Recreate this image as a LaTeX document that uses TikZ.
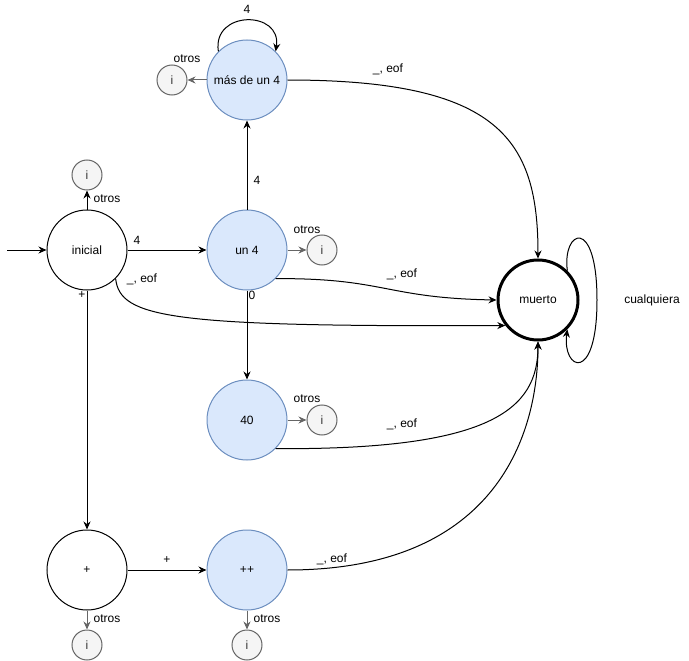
\documentclass[tikz,border=0pt]{standalone}
\usepackage{fontspec}
\setmainfont{Liberation Sans}
\usetikzlibrary{arrows.meta}
\definecolor{azulrelleno}{HTML}{DAE8FC}
\definecolor{azulborde}{HTML}{6C8EBF}
\definecolor{grisrelleno}{HTML}{F5F5F5}
\definecolor{grisborde}{HTML}{666666}
\tikzset{
	estado/.style={circle, draw, minimum size=80pt, inner sep=0pt, line width=1pt},
	azul/.style={estado, fill=azulrelleno, draw=azulborde},
	muerte/.style={estado, line width=3pt},
	error/.style={circle, draw=grisborde, fill=grisrelleno, text=black!80, minimum size=30pt, inner sep=0pt, line width=1pt},
	etiq/.style={inner sep=1pt},
	flecha/.style={->, line width=1pt},
	gris/.style={flecha, draw=grisborde}
}
\begin{document}
\begin{tikzpicture}[x=1pt, y=-1pt, >={Stealth[length=8pt,width=7pt]}, font=\fontsize{12}{14}\selectfont]
			
			\useasboundingbox (0,0) rectangle (689,661);
			
			% estados
			\node[estado] (inicial) at (87,250) {inicial};
			\node[azul] (un4) at (247,250) {un 4};
			\node[azul] (mas4) at (247,80) {más de un 4};
			\node[azul] (cuarenta) at (247,420) {40};
			\node[estado] (mas) at (87,570) {+};
			\node[azul] (masmas) at (247,570) {++};
			\node[muerte] (muerto) at (538,300) {muerto};
			
			% estados de error
			\node[error] (i1) at (87,175) {i};
			\node[error] (i2) at (172,80) {i};
			\node[error] (i3) at (322,250) {i};
			\node[error] (i4) at (322,420) {i};
			\node[error] (i5) at (87,645) {i};
			\node[error] (i6) at (247,645) {i};
			
			\coordinate (inicio) at (7,250);
			\coordinate (lazo) at (597,300);
			
			% transiciones
			\draw[flecha] (inicio) -- (inicial);
			\draw[flecha] (inicial) -- (un4);
			\draw[flecha] (inicial) -- (mas);
			\draw[flecha] (inicial) -- (i1);
			\draw[flecha] (inicial.-45) .. controls (120,318) and (170,327) .. (muerto.-142);
			
			\draw[flecha] (un4) -- (mas4);
			\draw[flecha] (un4) -- (cuarenta);
			\draw[gris] (un4) -- (i3);
			\draw[flecha] (un4.-45) .. controls (385,278) and (385,298) .. (muerto.west);
			
			\draw[flecha] (mas4.135) .. controls (212,10) and (282,10) .. (mas4.45);
			\draw[gris] (mas4) -- (i2);
			\draw[flecha] (mas4.east) .. controls (500,80) and (538,140) .. (muerto.north);
			
			\draw[gris] (cuarenta) -- (i4);
			\draw[flecha] (cuarenta.-45) .. controls (490,450) and (538,410) .. (muerto.south);
			
			\draw[flecha] (mas) -- (masmas);
			\draw[gris] (mas) -- (i5);
			\draw[gris] (masmas) -- (i6);
			\draw[flecha] (masmas.east) .. controls (500,570) and (538,430) .. (muerto.south);
			
			\draw[flecha] (muerto.45) .. controls (562,230) and (597,215) .. (lazo)
				.. controls (597,385) and (562,370) .. (muerto.-45);
			
			% etiquetas
			\node[etiq] (t1) at (137,240) {4};
			\node[etiq] (t2) at (82,295) {+};
			\node[etiq] (t3) at (107,199) {otros};
			\node[etiq] (t4) at (142,279) {\_, eof};
			\node[etiq] (t5) at (257,180) {4};
			\node[etiq] (t6) at (252,295) {0};
			\node[etiq] (t7) at (307,230) {otros};
			\node[etiq] (t8) at (402,274) {\_, eof};
			\node[etiq] (t9) at (247,9) {4};
			\node[etiq] (t10) at (187,59) {otros};
			\node[etiq] (t11) at (388,69) {\_, eof};
			\node[etiq] (t12) at (307,399) {otros};
			\node[etiq] (t13) at (402,424) {\_, eof};
			\node[etiq] (t14) at (167,560) {+};
			\node[etiq] (t15) at (107,619) {otros};
			\node[etiq] (t16) at (267,619) {otros};
			\node[etiq] (t17) at (332,559) {\_, eof};
			\node[etiq] (t18) at (652,300) {cualquiera};
			
		\end{tikzpicture}
\end{document}
